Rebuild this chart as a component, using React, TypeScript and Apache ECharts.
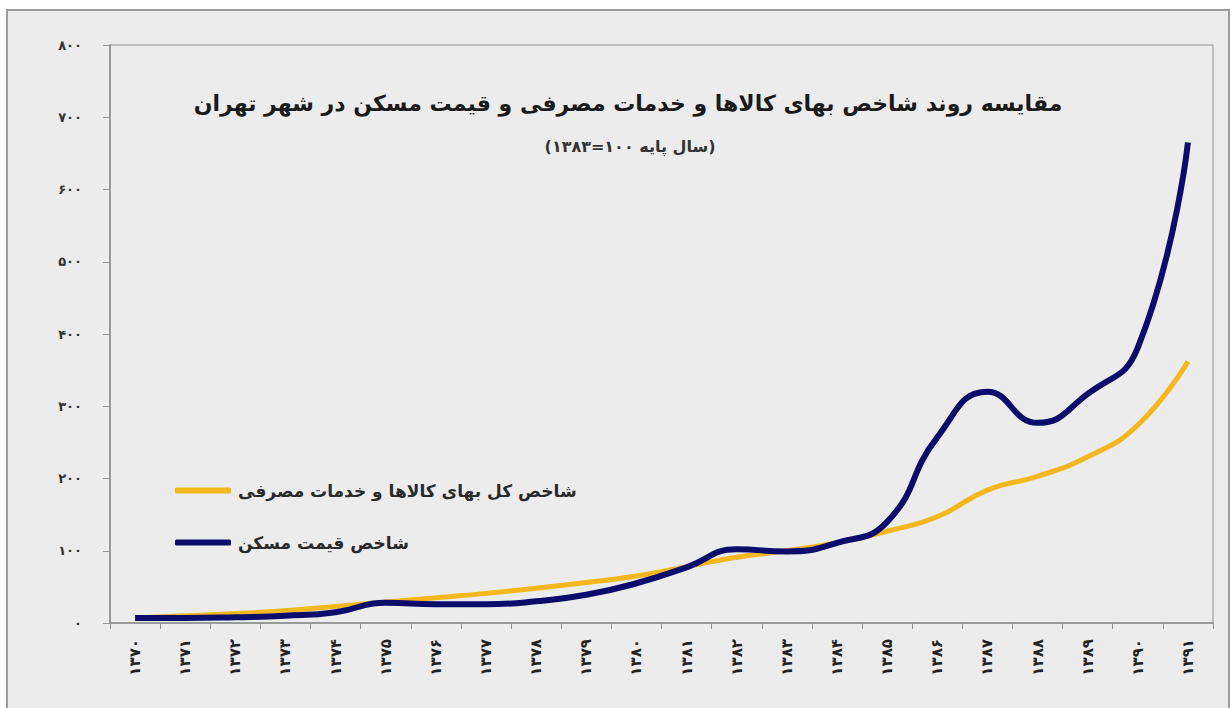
import React, { useEffect, useRef } from "react";
import * as echarts from "echarts";

const years = [1370, 1371, 1372, 1373, 1374, 1375, 1376, 1377, 1378, 1379, 1380, 1381, 1382, 1383, 1384, 1385, 1386, 1387, 1388, 1389, 1390, 1391];
const cpiIndex = [7, 10, 13, 17, 23, 29, 35, 41, 48, 56, 65, 78, 91, 100, 111, 127, 147, 184, 203, 230, 274, 362];
const housingIndex = [7, 7, 8, 10, 15, 28, 26, 26, 30, 39, 55, 77, 102, 99, 111, 140, 257, 320, 277, 317, 381, 665];
const yTicks = [0, 100, 200, 300, 400, 500, 600, 700, 800];

const titleText = "مقایسه روند شاخص بهای کالاها و خدمات مصرفی و قیمت مسکن در شهر تهران";
const subtitleText = "(سال پایه ۱۰۰=۱۳۸۳)";
const cpiName = "شاخص کل بهای کالاها و خدمات مصرفی";
const housingName = "شاخص قیمت مسکن";

const faDigits = "۰۱۲۳۴۵۶۷۸۹";
const fa = (v: number | string) => String(v).replace(/\d/g, (d) => faDigits[+d]);

const FONT = "'DejaVu Sans', 'Noto Sans', sans-serif";

export default function App() {
  const ref = useRef<HTMLDivElement>(null);
  useEffect(() => {
    if (!ref.current) return;
    const chart = echarts.init(ref.current, null, { renderer: "svg" });
    chart.setOption({
      animation: false,
      backgroundColor: "#ffffff",
      graphic: [
        {
          type: "rect",
          z: -10,
          silent: true,
          shape: { x: 7, y: 10, width: 1222, height: 710 },
          style: { fill: "#ececec", stroke: "#9c9c9c", lineWidth: 2 },
        },
        {
          type: "text",
          x: 628,
          y: 103,
          style: {
            text: titleText,
            font: `bold 22px ${FONT}`,
            fill: "#1a1a1a",
            textAlign: "center",
            textVerticalAlign: "middle",
          },
        },
        {
          type: "text",
          x: 630,
          y: 146,
          style: {
            text: subtitleText,
            font: `bold 16px ${FONT}`,
            fill: "#333333",
            textAlign: "center",
            textVerticalAlign: "middle",
          },
        },
      ],
      grid: {
        left: 110,
        right: 19,
        top: 45,
        bottom: 85,
        show: true,
        borderColor: "#8e8e8e",
        borderWidth: 1,
        backgroundColor: "transparent",
      },
      legend: {
        orient: "vertical",
        left: 170,
        top: 477,
        itemWidth: 56,
        itemHeight: 6,
        itemGap: 35,
        icon: "roundRect",
        textStyle: {
          fontFamily: FONT,
          fontSize: 17,
          fontWeight: "bold",
          color: "#2a2a2a",
          padding: [0, 0, 0, 2],
        },
        data: [cpiName, housingName],
      },
      xAxis: {
        type: "category",
        data: years,
        boundaryGap: true,
        axisLine: { show: true, lineStyle: { color: "#8e8e8e", width: 1.5 } },
        axisTick: { show: true, length: 6, lineStyle: { color: "#8e8e8e" } },
        axisLabel: {
          rotate: 90,
          margin: 16,
          formatter: (v: string) => fa(v),
          fontFamily: FONT,
          fontSize: 15,
          fontWeight: "bold",
          color: "#222222",
        },
        splitLine: { show: false },
      },
      yAxis: {
        type: "value",
        min: 0,
        max: 800,
        interval: 100,
        data: yTicks,
        axisLine: { show: true, lineStyle: { color: "#8e8e8e", width: 1.5 } },
        axisTick: { show: true, inside: false, length: 7, lineStyle: { color: "#9a9a9a" } },
        axisLabel: {
          margin: 28,
          formatter: (v: number) => fa(v),
          fontFamily: FONT,
          fontSize: 13,
          fontWeight: "bold",
          color: "#333333",
        },
        splitLine: { show: false },
      },
      series: [
        {
          name: cpiName,
          type: "line",
          data: cpiIndex,
          smooth: true,
          showSymbol: false,
          symbol: "none",
          lineStyle: { color: "#f5b71e", width: 5 },
          itemStyle: { color: "#f5b71e" },
          z: 2,
        },
        {
          name: housingName,
          type: "line",
          data: housingIndex,
          smooth: true,
          showSymbol: false,
          symbol: "none",
          lineStyle: { color: "#0c0c6c", width: 6 },
          itemStyle: { color: "#0c0c6c" },
          z: 3,
        },
      ],
    });
    return () => chart.dispose();
  }, []);
  return (
    <div
      ref={ref}
      style={{ position: "fixed", left: 0, top: 0, width: 1232, height: 708 }}
    />
  );
}
